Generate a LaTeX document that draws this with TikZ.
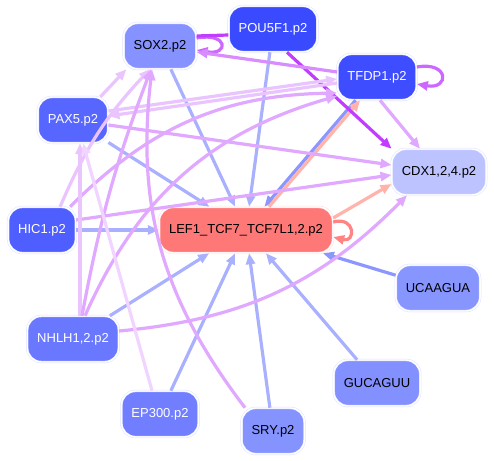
\documentclass[tikz,border=0pt]{standalone}
\usepackage{fontspec}
\setmainfont{Liberation Sans}
\usetikzlibrary{arrows.meta}
\definecolor{nodeline}{RGB}{222,226,255}
\definecolor{lefline}{RGB}{255,222,222}
\definecolor{soxfill}{RGB}{133,146,255}
\definecolor{poufill}{RGB}{58,75,255}
\definecolor{tfdpfill}{RGB}{62,77,255}
\definecolor{cdxfill}{RGB}{188,195,255}
\definecolor{paxfill}{RGB}{86,102,255}
\definecolor{hicfill}{RGB}{78,94,255}
\definecolor{leffill}{RGB}{255,120,120}
\definecolor{ucaafill}{RGB}{135,149,255}
\definecolor{nhlhfill}{RGB}{106,120,255}
\definecolor{gucafill}{RGB}{131,144,255}
\definecolor{epfill}{RGB}{112,126,255}
\definecolor{sryfill}{RGB}{133,147,255}
\definecolor{edgeblue}{RGB}{169,177,255}
\definecolor{edgeblue2}{RGB}{140,150,255}
\definecolor{edgesalmon}{RGB}{255,179,171}
\definecolor{edgered}{RGB}{255,133,133}
\definecolor{edgeviolet}{RGB}{194,60,255}
\definecolor{edgeloop}{RGB}{204,104,255}
\definecolor{edgemid}{RGB}{216,140,255}
\definecolor{edgelilac}{RGB}{224,168,255}
\definecolor{edgepale}{RGB}{234,196,255}
\definecolor{edgefaint}{RGB}{241,212,255}

\begin{document}
\begin{tikzpicture}[x=1pt,y=1pt,>={Triangle[length=11pt,width=9pt]},
 box/.style={rounded corners=14pt,minimum height=46pt,inner xsep=10pt,font=\fontsize{13}{15}\selectfont,
  draw=nodeline,double=white,double distance=1.4pt,line width=.5pt},
 wbox/.style={box,text=white},
 arr/.style={->,line width=3.2pt}]
\useasboundingbox (0,0) rectangle (494,460);
% nodes, laid out on a circle round the LEF1 node
\node[box,fill=soxfill] (sox) at (160,414) {SOX2.p2};
\node[wbox,fill=poufill] (pou) at (273,431) {POU5F1.p2};
\node[wbox,fill=tfdpfill] (tfdp) at (377,383) {TFDP1.p2};
\node[box,fill=cdxfill] (cdx) at (439,288) {CDX1,2,4.p2};
\node[wbox,fill=paxfill] (pax) at (73,340) {PAX5.p2};
\node[wbox,fill=hicfill] (hic) at (42,230) {HIC1.p2};
\node[box,fill=leffill,draw=lefline] (lef) at (246,230) {LEF1\_TCF7\_TCF7L1,2.p2};
\node[box,fill=ucaafill] (ucaa) at (438,172) {UCAAGUA};
\node[wbox,fill=nhlhfill] (nhlh) at (73,121) {NHLH1,2.p2};
\node[box,fill=gucafill] (guca) at (377,77) {GUCAGUU};
\node[wbox,fill=epfill] (ep) at (160,46) {EP300.p2};
\node[box,fill=sryfill] (sry) at (273,29) {SRY.p2};
% edges into LEF1
\draw[arr,edgeblue] (sox) -- (lef);
\draw[arr,edgeblue] (pou) -- (lef);
\draw[arr,edgeblue] (pax) -- (lef);
\draw[arr,edgeblue] (hic) -- (lef);
\draw[arr,edgeblue] (nhlh) -- (lef);
\draw[arr,edgeblue] (ep) -- (lef);
\draw[arr,edgeblue] (sry) -- (lef);
\draw[arr,edgeblue] (guca) -- (lef);
\draw[arr,edgeblue2] (ucaa) -- (lef);
\draw[arr,edgeblue2,transform canvas={xshift=-1.5pt}] (tfdp) -- (lef);
% edges out of LEF1
\draw[arr,edgesalmon,transform canvas={xshift=3pt}] (lef) -- (tfdp);
\draw[arr,edgesalmon] ([yshift=12pt]lef.east) -- ([yshift=-12pt]cdx.west);
\draw[arr,edgered] ([yshift=8pt]lef.east) to[out=15,in=-15,looseness=4] ([yshift=-7pt]lef.east);
% self loops
\draw[arr,edgeloop] ([yshift=8pt]sox.east) to[out=10,in=-10,looseness=7] ([yshift=-4pt]sox.east);
\draw[arr,edgeloop] ([yshift=10pt]tfdp.east) to[out=10,in=-10,looseness=5] ([yshift=-7pt]tfdp.east);
% POU5F1
\draw[arr,edgeviolet] ([xshift=14pt]pou.south) -- (cdx.north west);
\draw[line width=3.2pt,edgeviolet] ([yshift=-6pt]pou.west) -- ([yshift=10pt]sox.east);
% TFDP1
\draw[arr,edgemid] ([yshift=5pt]tfdp.west) -- ([yshift=-6pt]sox.east);
\draw[arr,edgelilac] ([xshift=3pt]tfdp.south) -- ([xshift=-19pt]cdx.north);
\draw[arr,edgepale] ([yshift=-6pt]tfdp.west) -- ([yshift=4pt]pax.east);
% PAX5
\draw[arr,edgepale] ([yshift=9pt]pax.east) -- ([yshift=-2pt]tfdp.west);
\draw[arr,edgelilac] ([yshift=-5pt]pax.east) -- ([yshift=7pt]cdx.west);
\draw[arr,edgepale] ([xshift=-8pt]pax.north east) -- ([xshift=3pt]sox.south west);
% HIC1
\draw[arr,edgelilac] ([yshift=10pt]hic.east) -- ([yshift=-3pt]cdx.west);
\draw[arr,edgelilac] ([xshift=-6pt]hic.north east) to[bend left=22] ([yshift=-16pt]tfdp.west);
\draw[arr,edgepale] ([xshift=-16pt]hic.north east) to[bend left=10] ([xshift=-10pt]sox.south);
% NHLH1
\draw[arr,edgepale] ([xshift=7pt]nhlh.north) -- ([xshift=7pt]pax.south);
\draw[arr,edgelilac] ([xshift=9pt]nhlh.north) to[bend left=5] ([xshift=-9pt]sox.south);
\draw[arr,edgelilac] ([xshift=12pt]nhlh.north) to[bend left=25] ([yshift=-19pt]tfdp.west);
\draw[arr,edgelilac] ([yshift=8pt]nhlh.east) to[bend right=20] ([xshift=-32pt]cdx.south);
% EP300 and SRY
\draw[arr,edgefaint] ([xshift=-8pt]ep.north) -- ([xshift=10pt]pax.south);
\draw[arr,edgelilac] ([xshift=-28pt]sry.north) to[bend left=22] ([xshift=-8pt]sox.south);
\end{tikzpicture}
\end{document}
